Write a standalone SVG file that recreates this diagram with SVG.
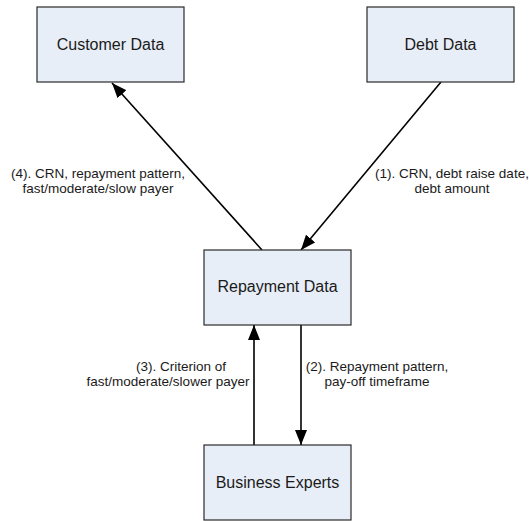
<svg xmlns="http://www.w3.org/2000/svg" width="529" height="521" viewBox="0 0 529 521">
  <style>
    .box { fill: #e8eef7; stroke: #2a2a2a; stroke-width: 1.2; }
    .nt { font-family: "Liberation Sans", Arial, sans-serif; font-size: 16px; fill: #1a1a1a; text-anchor: middle; }
    .lt { font-family: "Liberation Sans", Arial, sans-serif; font-size: 13.5px; fill: #1a1a1a; text-anchor: middle; }
    .conn { stroke: #000; stroke-width: 1.6; fill: none; marker-end: url(#ah); }
  </style>
  <defs>
    <marker id="ah" markerUnits="userSpaceOnUse" markerWidth="16" markerHeight="12" refX="15" refY="6" orient="auto">
      <path d="M0,0 L15,6 L0,12 Z" fill="#000"/>
    </marker>
  </defs>
  <rect width="529" height="521" fill="#ffffff"/>

  <g id="connectors">
    <line class="conn" x1="262" y1="250" x2="112" y2="83"/>
    <line class="conn" x1="441" y1="82" x2="301" y2="250"/>
    <line class="conn" x1="301" y1="325" x2="301" y2="445"/>
    <line class="conn" x1="254" y1="445" x2="254" y2="325"/>
  </g>

  <g id="customer-data">
    <rect class="box" x="37" y="7" width="147" height="75"/>
    <text class="nt" x="110.5" y="49.5">Customer Data</text>
  </g>
  <g id="debt-data">
    <rect class="box" x="367" y="7" width="147" height="75"/>
    <text class="nt" x="440.5" y="49.5">Debt Data</text>
  </g>
  <g id="repayment-data">
    <rect class="box" x="204" y="250" width="147" height="75"/>
    <text class="nt" x="277.5" y="292">Repayment Data</text>
  </g>
  <g id="business-experts">
    <rect class="box" x="204" y="445" width="147" height="75"/>
    <text class="nt" x="277.5" y="488">Business Experts</text>
  </g>

  <g id="labels">
    <text class="lt" x="98" y="178">(4). CRN, repayment pattern,</text>
    <text class="lt" x="98" y="193">fast/moderate/slow payer</text>
    <text class="lt" x="452" y="178">(1). CRN, debt raise date,</text>
    <text class="lt" x="452" y="193">debt amount</text>
    <text class="lt" x="181" y="371">(3). Criterion of</text>
    <text class="lt" x="168" y="386">fast/moderate/slower payer</text>
    <text class="lt" x="377" y="371">(2). Repayment pattern,</text>
    <text class="lt" x="377" y="386">pay-off timeframe</text>
  </g>
</svg>
